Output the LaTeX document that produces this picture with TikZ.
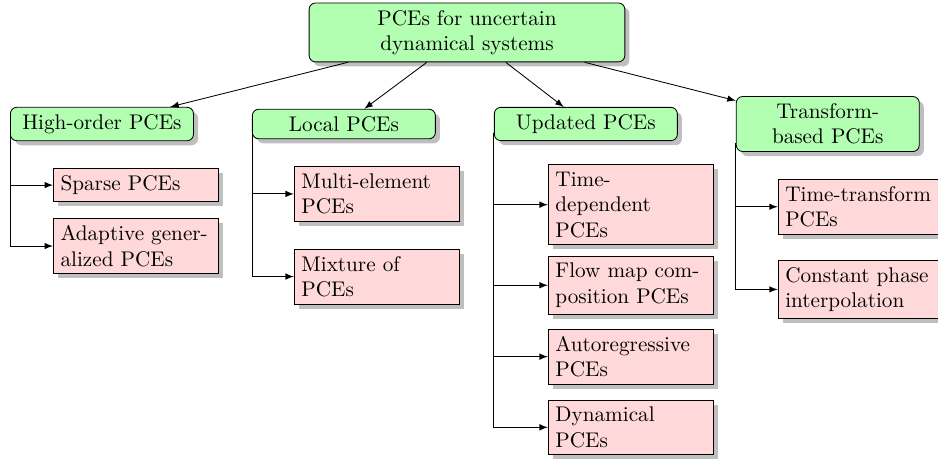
\documentclass[tikz,border=0pt]{standalone}
\usepackage{tikz}
\usetikzlibrary{arrows, positioning, shadows}

\begin{document}
\begin{tikzpicture}
		\tikzstyle{RootName} = [rectangle, rounded corners=3pt, text width=5cm, align=center, draw=black, fill=green!30, drop shadow={fill=black!25, opacity=1}]
		\tikzstyle{FamilyName} = [rectangle, rounded corners=3pt, text width=2.8cm, align=center, draw=black, fill=green!30, drop shadow={fill=black!25, opacity=1}]
		\tikzstyle{MethodName} = [rectangle, text width=2.5cm, draw=black, fill=red!15, drop shadow={fill=black!25, opacity=1}]
		\tikzstyle{arrow} = [->,>=latex]
		
		\useasboundingbox (-220.3pt,15.3pt) rectangle (222.2pt,-201.7pt);
		
		\node (root) [RootName] at (0,0) {PCEs for uncertain dynamical systems};
		
		\node (highP) [FamilyName] at (-172.2pt,-43.2pt) {High-order PCEs};
		\node (localP) [FamilyName, right = 27.4pt of highP] {Local PCEs};
		\node (updP) [FamilyName, right = 27.4pt of localP] {Updated PCEs};
		\node (trfP) [FamilyName, right = 27.4pt of updP] {Transform-based PCEs};
		
		% high-order
		\node (sparseP) [MethodName, below right = 12.7pt and 20.3pt of highP.south west] {Sparse PCEs};
		\node (adaptP) [MethodName, below = 7.5pt of sparseP] {Adaptive generalized PCEs};
		
		% local
		\node (multiP) [MethodName, below right = 12.7pt and 19.8pt of localP.south west] {Multi-element PCEs};
		\node (mixP) [MethodName, below = 12.7pt of multiP] {Mixture of PCEs};
		
		% updated
		\node (timeDepP) [MethodName, below right = 11pt and 25.5pt of updP.south west] {Time-\\dependent PCEs};
		\node (flowP) [MethodName, below = 5pt of timeDepP] {Flow map composition PCEs};
		\node (autoP) [MethodName, below = 6.5pt of flowP] {Autoregressive PCEs};
		\node (dynP) [MethodName, below = 7pt of autoP] {Dynamical PCEs};
		
		% transform-based
		\node (timeTrP) [MethodName, below right = 12.7pt and 19.8pt of trfP.south west] {Time-transform PCEs};
		\node (phaseP) [MethodName, below = 11.8pt of timeTrP] {Constant phase interpolation};
		
		\draw[arrow] (root) -- (highP);
		\draw[arrow] (root) -- (localP);
		\draw[arrow] (root) -- (updP);
		\draw[arrow] (root) -- (trfP);
		
		\draw[arrow] ([yshift=4pt]highP.south west) |- (sparseP);
		\draw[arrow] ([yshift=4pt]highP.south west) |- (adaptP);
		\draw[arrow] ([yshift=4pt]localP.south west) |- (multiP);
		\draw[arrow] ([yshift=4pt]localP.south west) |- (mixP);
		\draw[arrow] ([yshift=4pt]updP.south west) |- (timeDepP);
		\draw[arrow] ([yshift=4pt]updP.south west) |- (flowP);
		\draw[arrow] ([yshift=4pt]updP.south west) |- (autoP);
		\draw[arrow] ([yshift=4pt]updP.south west) |- (dynP);
		\draw[arrow] ([yshift=4pt]trfP.south west) |- (timeTrP);
		\draw[arrow] ([yshift=4pt]trfP.south west) |- (phaseP);
\end{tikzpicture}
\end{document}
